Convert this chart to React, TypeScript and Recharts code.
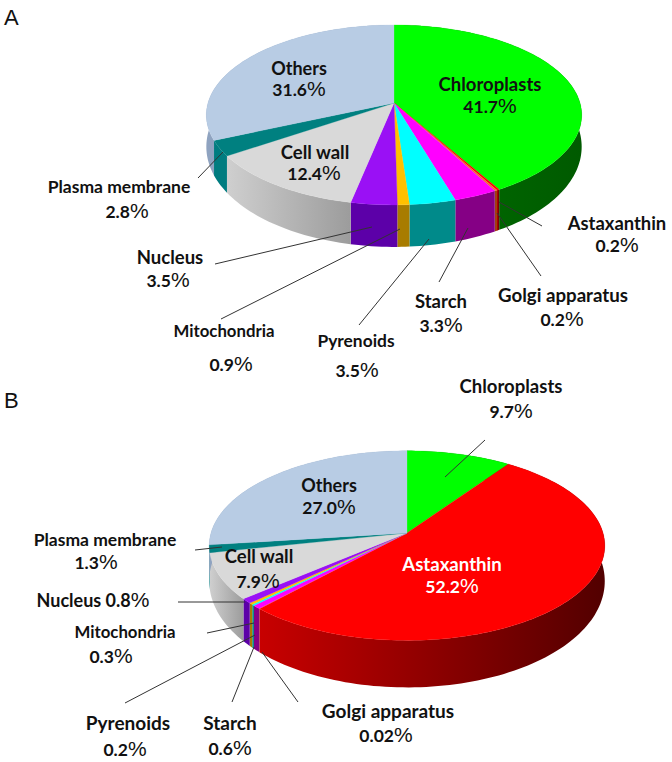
import { Pie, PieChart } from 'recharts';

// cellular distribution, clockwise from 12 o'clock
const namesA = ['Chloroplasts', 'Astaxanthin', 'Golgi apparatus', 'Starch', 'Pyrenoids', 'Mitochondria', 'Nucleus', 'Cell wall', 'Plasma membrane', 'Others'];
const valuesA = [41.7, 0.2, 0.2, 3.3, 3.5, 0.9, 3.5, 12.4, 2.8, 31.6];

const namesB = ['Chloroplasts', 'Astaxanthin', 'Golgi apparatus', 'Starch', 'Pyrenoids', 'Mitochondria', 'Nucleus', 'Cell wall', 'Plasma membrane', 'Others'];
const valuesB = [9.7, 52.2, 0.02, 0.6, 0.2, 0.3, 0.8, 7.9, 1.3, 27.0];

const topColors: Record<string, string> = {
  Chloroplasts: '#00FF00',
  Astaxanthin: '#FF0000',
  'Golgi apparatus': '#F07030',
  Starch: '#FF00FF',
  Pyrenoids: '#00FFFF',
  Mitochondria: '#FFC000',
  Nucleus: '#9A10F5',
  'Cell wall': '#D9D9D9',
  'Plasma membrane': '#008080',
  Others: '#B8CCE4',
};

// side wall, left to right
const wallColors: Record<string, [string, string]> = {
  Chloroplasts: ['#007000', '#005A00'],
  Astaxanthin: ['#C80000', '#520000'],
  'Golgi apparatus': ['#A04010', '#A04010'],
  Starch: ['#850085', '#850085'],
  Pyrenoids: ['#008A8A', '#008A8A'],
  Mitochondria: ['#A87C00', '#A87C00'],
  Nucleus: ['#5C00A8', '#5C00A8'],
  'Cell wall': ['#CFCFCF', '#9C9C9C'],
  'Plasma membrane': ['#007C80', '#007C80'],
  Others: ['#8FA3C0', '#8FA3C0'],
};

const buildTable = (names: string[], values: number[]) =>
  names.map((name, i) => ({
    name,
    value: values[i],
    fill: topColors[name],
    wallFrom: wallColors[name][0],
    wallTo: wallColors[name][1],
  }));

const TILT = 0.475;
const PERSPECTIVE = 0.133;

function project(cx: number, cy: number, r: number, deg: number) {
  const rad = (deg * Math.PI) / 180;
  const c = Math.cos(rad);
  const s = -Math.sin(rad);
  const k = 1 - PERSPECTIVE * s;
  return { x: cx + (r * c) / k, y: cy + (r * TILT * s) / k, s };
}

function rim(cx: number, cy: number, r: number, start: number, end: number) {
  const steps = Math.max(2, Math.ceil(Math.abs(end - start) / 1.5));
  const pts = [];
  for (let i = 0; i <= steps; i++) {
    pts.push(project(cx, cy, r, start + ((end - start) * i) / steps));
  }
  return pts;
}

const toPath = (pts: { x: number; y: number }[]) =>
  pts.map((p, i) => `${i ? 'L' : 'M'}${p.x.toFixed(2)},${p.y.toFixed(2)}`).join(' ');

function FaceShape(props: any) {
  const { cx, cy, outerRadius, startAngle, endAngle, fill } = props;
  const pts = rim(cx, cy, outerRadius, startAngle, endAngle);
  return <path d={`M${cx},${cy} ${toPath(pts).replace('M', 'L')} Z`} fill={fill} stroke={fill} strokeWidth={0.3} />;
}

const makeWallShape = (depth: number, prefix: string) =>
  function WallShape(props: any) {
    const { cx, cy, outerRadius, startAngle, endAngle, name } = props;
    const entry = props.payload ?? props;
    const top = rim(cx, cy, outerRadius, startAngle, endAngle);
    const bottom = top
      .map((p) => ({ x: p.x, y: p.y + depth * (0.72 + 0.28 * p.s) }))
      .reverse();
    const id = `${prefix}-${String(name ?? entry.name).replace(/\s/g, '')}`;
    return (
      <g>
        <defs>
          <linearGradient id={id} x1="0" y1="0" x2="1" y2="0">
            <stop offset="0%" stopColor={entry.wallFrom} />
            <stop offset="100%" stopColor={entry.wallTo} />
          </linearGradient>
        </defs>
        <path d={`${toPath(top)} ${toPath(bottom).replace('M', 'L')} Z`} fill={`url(#${id})`} />
      </g>
    );
  };

const wallA = makeWallShape(42, 'wallA');
const wallB = makeWallShape(47, 'wallB');

type Note = { text: string; pct: string; x: number; y: number; py: number; px?: number; size?: number; color?: string };

const notes: Note[] = [
  { text: 'Others', pct: '31.6', x: 299, y: 75, px: 299, py: 96, size: 18 },
  { text: 'Chloroplasts', pct: '41.7', x: 490, y: 91, px: 490, py: 113, size: 18.5 },
  { text: 'Cell wall', pct: '12.4', x: 315, y: 159, px: 314, py: 180, size: 18.5 },
  { text: 'Plasma membrane', pct: '2.8', x: 119, y: 193, px: 127, py: 218, size: 17.5 },
  { text: 'Nucleus', pct: '3.5', x: 170, y: 264, px: 168, py: 287, size: 18.5 },
  { text: 'Mitochondria', pct: '0.9', x: 224, y: 337, px: 231, py: 371, size: 16.8 },
  { text: 'Pyrenoids', pct: '3.5', x: 356, y: 347, px: 357, py: 377, size: 17.4 },
  { text: 'Starch', pct: '3.3', x: 441, y: 308, px: 441, py: 332, size: 18.5 },
  { text: 'Golgi apparatus', pct: '0.2', x: 563, y: 302, px: 562, py: 326, size: 18.7 },
  { text: 'Astaxanthin', pct: '0.2', x: 617, y: 230, px: 617, py: 252, size: 18.4 },
  { text: 'Chloroplasts', pct: '9.7', x: 511, y: 393, px: 511, py: 418, size: 18.5 },
  { text: 'Others', pct: '27.0', x: 329, y: 492, px: 329, py: 514, size: 18 },
  { text: 'Cell wall', pct: '7.9', x: 259, y: 563, px: 258, py: 588, size: 18.5 },
  { text: 'Astaxanthin', pct: '52.2', x: 452, y: 571, px: 452, py: 593, size: 18.6, color: '#FFFFFF' },
  { text: 'Plasma membrane', pct: '1.3', x: 105, y: 546, px: 96, py: 569, size: 17.5 },
  { text: 'Mitochondria', pct: '0.3', x: 125, y: 638, px: 111, py: 663, size: 16.8 },
  { text: 'Pyrenoids', pct: '0.2', x: 128, y: 730, px: 125, py: 756, size: 19 },
  { text: 'Starch', pct: '0.6', x: 230, y: 730, px: 230, py: 755, size: 19 },
  { text: 'Golgi apparatus', pct: '0.02', x: 388, y: 718, px: 386, py: 742, size: 19 },
];

const leaders = [
  [198, 178, 223, 152],
  [215, 264, 372, 227],
  [221, 319, 400, 229],
  [359, 325, 429, 239],
  [439, 282, 468, 228],
  [541, 276, 497, 213],
  [542, 226, 499, 202],
  [485, 440, 445, 477],
  [195, 550, 222, 547],
  [178, 602, 245, 602],
  [207, 633, 254, 623],
  [125, 703, 255, 635],
  [232, 702, 254, 647],
  [298, 702, 262, 652],
];

const labelFont = 'Lato, "Open Sans", sans-serif';

function Pct({ value }: { value: string }) {
  return (
    <>
      {value}
      <tspan fontFamily='"Liberation Sans", sans-serif' fontWeight={400} fontSize={21}>%</tspan>
    </>
  );
}

export default function App() {
  const tableA = buildTable(namesA, valuesA);
  const tableB = buildTable(namesB, valuesB);
  const common = {
    dataKey: 'value',
    nameKey: 'name',
    startAngle: 90,
    endAngle: -270,
    innerRadius: 0,
    paddingAngle: 0,
    stroke: 'none',
    labelLine: false,
    isAnimationActive: false,
  };

  return (
    <div style={{ position: 'absolute', left: 0, top: 0, width: 672, height: 762, background: '#fff' }}>
      <PieChart width={672} height={762} margin={{ top: 0, right: 0, bottom: 0, left: 0 }}>
        <Pie {...common} data={tableA} cx={394} cy={103} outerRadius={186} shape={wallA} activeShape={wallA} />
        <Pie {...common} data={tableA} cx={394} cy={103} outerRadius={186} shape={FaceShape} activeShape={FaceShape} />
        <Pie {...common} data={tableB} cx={407} cy={533} outerRadius={196} shape={wallB} activeShape={wallB} />
        <Pie {...common} data={tableB} cx={407} cy={533} outerRadius={196} shape={FaceShape} activeShape={FaceShape} />
      </PieChart>
      <svg width={672} height={762} style={{ position: 'absolute', left: 0, top: 0, pointerEvents: 'none' }}>
        {leaders.map(([x1, y1, x2, y2], i) => (
          <line key={i} x1={x1} y1={y1} x2={x2} y2={y2} stroke="#333" strokeWidth={1} />
        ))}
        <text x={4} y={25} fontFamily='"Liberation Sans", sans-serif' fontSize={22} fill="#111">A</text>
        <text x={4} y={408} fontFamily='"Liberation Sans", sans-serif' fontSize={22} fill="#111">B</text>
        <g fontFamily={labelFont} fontWeight={700} textAnchor="middle">
          {notes.map((n, i) => (
            <g key={i} fill={n.color ?? '#111'}>
              <text x={n.x} y={n.y} fontSize={n.size}>{n.text}</text>
              <text x={n.px ?? n.x} y={n.py} fontSize={17.5}><Pct value={n.pct} /></text>
            </g>
          ))}
          <text x={93} y={607} fill="#111" fontSize={18}>Nucleus <Pct value="0.8" /></text>
        </g>
      </svg>
    </div>
  );
}
